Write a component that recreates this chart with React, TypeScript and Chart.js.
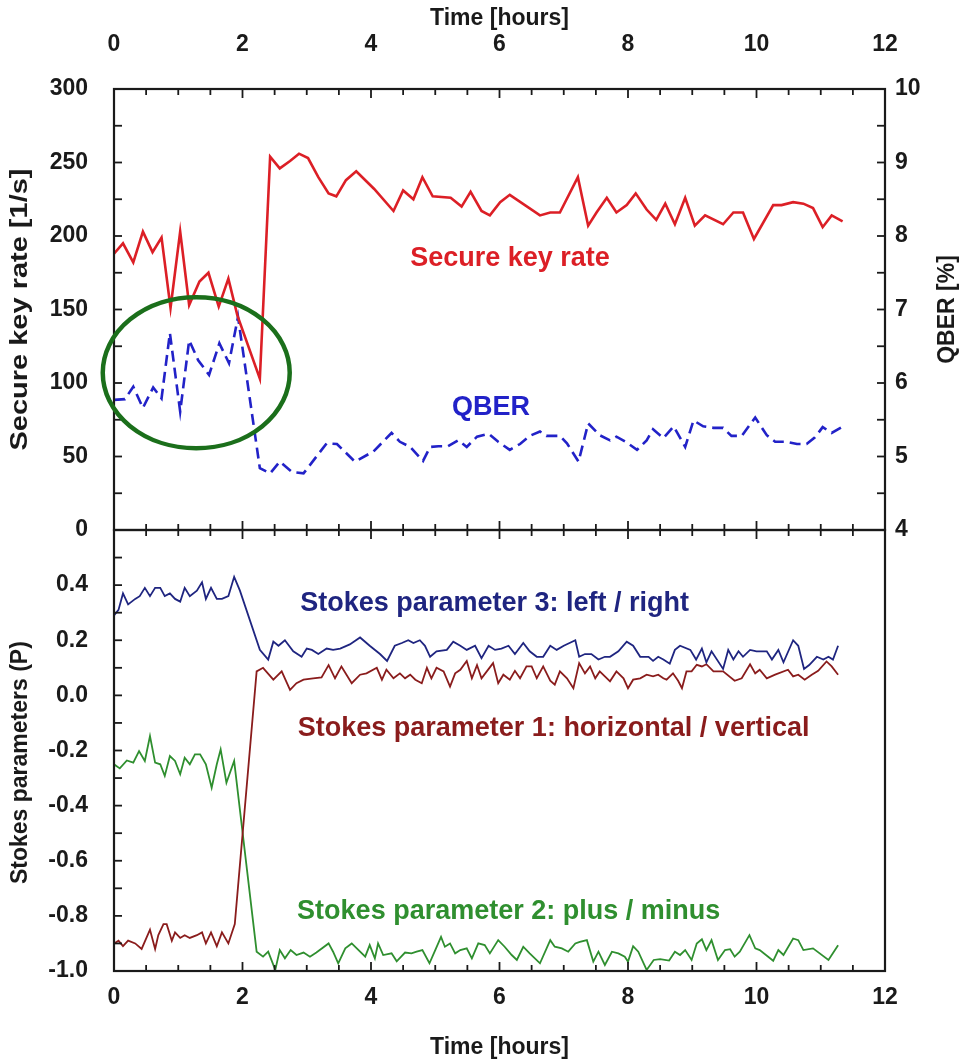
import React, { useEffect, useRef } from "react";
import { Chart, registerables } from "chart.js";
Chart.register(...registerables);

const FONT = '"Liberation Sans", Arial, Helvetica, sans-serif';
const W = 967;
const H = 1063;

// ---------- data: [time in hours, value] ----------
const keyRateSeries = [
  [0.0, 188], [0.14, 195], [0.3, 182], [0.45, 203], [0.6, 189], [0.74, 199], [0.88, 151], [1.03, 203],
  [1.17, 153], [1.33, 169], [1.47, 175], [1.63, 152], [1.78, 171], [1.92, 146], [2.27, 103], [2.43, 254],
  [2.58, 246], [2.74, 251], [2.88, 256], [3.02, 253], [3.18, 240], [3.34, 229], [3.46, 227], [3.61, 238],
  [3.77, 244], [4.05, 232], [4.35, 217], [4.5, 231], [4.66, 225], [4.8, 240], [4.96, 227], [5.24, 226],
  [5.41, 220], [5.55, 230], [5.72, 217], [5.85, 214], [6.01, 223], [6.16, 228], [6.63, 214], [6.79, 216],
  [6.94, 216], [7.22, 240], [7.38, 207], [7.51, 216], [7.67, 226], [7.82, 216], [7.98, 221], [8.12, 229],
  [8.29, 218], [8.44, 211], [8.58, 222], [8.73, 208], [8.89, 226], [9.04, 207], [9.2, 214], [9.48, 208],
  [9.64, 216], [9.79, 216], [9.96, 198], [10.26, 221], [10.39, 221], [10.57, 223], [10.73, 222], [10.88, 219],
  [11.03, 206], [11.17, 214], [11.34, 210],
];

const qberSeries = [
  [0.0, 5.77], [0.17, 5.78], [0.3, 5.95], [0.45, 5.66], [0.61, 5.94], [0.74, 5.79], [0.87, 6.68], [1.03, 5.61],
  [1.17, 6.58], [1.31, 6.31], [1.48, 6.11], [1.64, 6.54], [1.79, 6.27], [1.93, 6.9], [2.27, 4.84], [2.43, 4.77],
  [2.58, 4.93], [2.77, 4.79], [2.95, 4.77], [3.31, 5.18], [3.47, 5.17], [3.75, 4.93], [4.04, 5.07], [4.32, 5.32],
  [4.45, 5.2], [4.61, 5.13], [4.81, 4.94], [4.92, 5.13], [5.05, 5.14], [5.2, 5.14], [5.36, 5.22], [5.49, 5.13],
  [5.65, 5.27], [5.83, 5.31], [5.98, 5.2], [6.16, 5.09], [6.32, 5.17], [6.47, 5.28], [6.63, 5.34], [6.73, 5.28],
  [6.94, 5.28], [7.05, 5.18], [7.23, 4.93], [7.38, 5.45], [7.56, 5.29], [7.72, 5.22], [7.82, 5.27], [7.98, 5.19],
  [8.14, 5.09], [8.29, 5.22], [8.39, 5.37], [8.55, 5.25], [8.71, 5.41], [8.89, 5.13], [9.02, 5.49], [9.17, 5.41],
  [9.33, 5.39], [9.48, 5.39], [9.61, 5.28], [9.77, 5.28], [9.98, 5.53], [10.16, 5.29], [10.29, 5.2], [10.47, 5.2],
  [10.63, 5.17], [10.78, 5.17], [10.91, 5.26], [11.03, 5.4], [11.17, 5.32], [11.33, 5.4],
];

const stokes3Series = [
  [0.0, 0.29], [0.07, 0.31], [0.14, 0.37], [0.22, 0.33], [0.33, 0.35], [0.4, 0.36], [0.48, 0.39], [0.56, 0.36],
  [0.64, 0.39], [0.72, 0.39], [0.79, 0.36], [0.87, 0.37], [0.95, 0.35], [1.03, 0.34], [1.1, 0.39], [1.18, 0.36],
  [1.29, 0.38], [1.37, 0.41], [1.43, 0.35], [1.51, 0.39], [1.6, 0.35], [1.68, 0.35], [1.78, 0.36], [1.87, 0.43],
  [1.96, 0.38], [2.27, 0.165], [2.4, 0.13], [2.48, 0.195], [2.56, 0.18], [2.66, 0.2], [2.79, 0.16], [2.92, 0.14],
  [3.0, 0.17], [3.08, 0.165], [3.18, 0.15], [3.31, 0.17], [3.41, 0.165], [3.52, 0.17], [3.67, 0.185], [3.83, 0.21],
  [3.98, 0.18], [4.14, 0.15], [4.25, 0.125], [4.37, 0.18], [4.48, 0.19], [4.58, 0.2], [4.66, 0.19], [4.76, 0.2],
  [4.84, 0.18], [4.92, 0.14], [5.02, 0.16], [5.18, 0.165], [5.28, 0.195], [5.39, 0.18], [5.49, 0.165], [5.62, 0.18],
  [5.72, 0.135], [5.83, 0.18], [5.93, 0.165], [6.03, 0.17], [6.14, 0.18], [6.24, 0.15], [6.37, 0.19], [6.47, 0.16],
  [6.58, 0.14], [6.68, 0.14], [6.79, 0.18], [6.89, 0.165], [7.0, 0.18], [7.09, 0.19], [7.18, 0.2], [7.24, 0.14],
  [7.33, 0.15], [7.43, 0.15], [7.54, 0.13], [7.64, 0.14], [7.72, 0.14], [7.85, 0.16], [7.98, 0.195], [8.08, 0.18],
  [8.19, 0.14], [8.32, 0.14], [8.39, 0.125], [8.47, 0.14], [8.55, 0.13], [8.65, 0.115], [8.73, 0.165], [8.81, 0.18],
  [8.97, 0.165], [9.06, 0.13], [9.15, 0.17], [9.22, 0.12], [9.3, 0.16], [9.48, 0.096], [9.56, 0.165], [9.64, 0.13],
  [9.72, 0.16], [9.79, 0.14], [9.9, 0.165], [10.0, 0.16], [10.16, 0.16], [10.24, 0.13], [10.34, 0.165], [10.42, 0.12],
  [10.57, 0.2], [10.65, 0.18], [10.74, 0.096], [10.82, 0.11], [10.94, 0.14], [11.04, 0.13], [11.12, 0.14], [11.19, 0.13],
  [11.27, 0.18],
];

const stokes1Series = [
  [0.0, -0.9], [0.07, -0.89], [0.14, -0.91], [0.22, -0.89], [0.33, -0.9], [0.43, -0.92], [0.56, -0.85], [0.64, -0.92],
  [0.69, -0.87], [0.77, -0.83], [0.82, -0.83], [0.9, -0.89], [0.95, -0.86], [1.03, -0.88], [1.1, -0.87], [1.18, -0.88],
  [1.29, -0.87], [1.37, -0.86], [1.43, -0.9], [1.51, -0.86], [1.6, -0.91], [1.68, -0.86], [1.78, -0.9], [1.88, -0.83],
  [2.22, 0.087], [2.32, 0.1], [2.48, 0.057], [2.61, 0.087], [2.74, 0.02], [2.84, 0.044], [2.95, 0.057], [3.1, 0.062],
  [3.23, 0.065], [3.34, 0.11], [3.44, 0.062], [3.54, 0.105], [3.7, 0.044], [3.83, 0.075], [3.93, 0.08], [4.09, 0.1],
  [4.17, 0.057], [4.24, 0.093], [4.35, 0.062], [4.45, 0.08], [4.53, 0.062], [4.61, 0.075], [4.69, 0.057], [4.79, 0.044],
  [4.87, 0.1], [4.94, 0.062], [5.02, 0.1], [5.13, 0.087], [5.23, 0.032], [5.31, 0.08], [5.39, 0.093], [5.49, 0.125],
  [5.57, 0.062], [5.65, 0.11], [5.72, 0.062], [5.9, 0.117], [5.98, 0.044], [6.06, 0.075], [6.16, 0.057], [6.24, 0.089],
  [6.32, 0.062], [6.42, 0.105], [6.5, 0.105], [6.58, 0.062], [6.68, 0.105], [6.79, 0.053], [6.86, 0.039], [6.94, 0.087],
  [7.05, 0.062], [7.15, 0.026], [7.24, 0.117], [7.33, 0.08], [7.41, 0.105], [7.49, 0.062], [7.56, 0.087], [7.64, 0.069],
  [7.72, 0.051], [7.82, 0.087], [7.93, 0.062], [8.0, 0.026], [8.08, 0.057], [8.19, 0.062], [8.29, 0.075], [8.39, 0.069],
  [8.47, 0.075], [8.55, 0.062], [8.6, 0.057], [8.7, 0.08], [8.78, 0.053], [8.84, 0.026], [8.91, 0.087], [8.99, 0.087],
  [9.07, 0.111], [9.15, 0.105], [9.22, 0.113], [9.33, 0.087], [9.48, 0.087], [9.66, 0.053], [9.77, 0.062], [9.9, 0.113],
  [9.98, 0.08], [10.05, 0.093], [10.16, 0.062], [10.29, 0.075], [10.49, 0.093], [10.57, 0.069], [10.65, 0.075], [10.75, 0.057],
  [10.86, 0.075], [10.96, 0.089], [11.09, 0.123], [11.17, 0.105], [11.27, 0.075],
];

const stokes2Series = [
  [0.0, -0.25], [0.09, -0.265], [0.2, -0.236], [0.3, -0.244], [0.39, -0.202], [0.48, -0.238], [0.56, -0.148], [0.64, -0.244],
  [0.72, -0.25], [0.79, -0.292], [0.87, -0.22], [0.95, -0.238], [1.03, -0.286], [1.1, -0.226], [1.18, -0.25], [1.26, -0.214],
  [1.34, -0.214], [1.43, -0.25], [1.52, -0.335], [1.6, -0.25], [1.66, -0.196], [1.75, -0.317], [1.87, -0.238], [2.22, -0.93],
  [2.32, -0.948], [2.4, -0.93], [2.51, -0.996], [2.58, -0.924], [2.66, -0.954], [2.75, -0.924], [2.84, -0.942], [2.95, -0.933],
  [3.05, -0.948], [3.15, -0.933], [3.34, -0.9], [3.41, -0.93], [3.49, -0.972], [3.6, -0.918], [3.7, -0.9], [3.91, -0.948],
  [3.98, -0.906], [4.06, -0.954], [4.11, -0.9], [4.19, -0.942], [4.32, -0.936], [4.4, -0.965], [4.53, -0.933], [4.63, -0.936],
  [4.71, -0.93], [4.8, -0.924], [4.91, -0.972], [5.0, -0.924], [5.09, -0.876], [5.15, -0.912], [5.23, -0.9], [5.31, -0.936],
  [5.39, -0.924], [5.49, -0.918], [5.57, -0.954], [5.67, -0.9], [5.77, -0.906], [5.85, -0.936], [5.98, -0.888], [6.08, -0.912],
  [6.19, -0.942], [6.27, -0.96], [6.37, -0.912], [6.47, -0.936], [6.63, -0.972], [6.79, -0.888], [6.86, -0.912], [6.97, -0.918],
  [7.07, -0.93], [7.18, -0.9], [7.25, -0.894], [7.36, -0.888], [7.46, -0.966], [7.54, -0.93], [7.64, -0.978], [7.75, -0.93],
  [7.85, -0.936], [7.95, -0.948], [8.0, -0.966], [8.08, -0.91], [8.16, -0.93], [8.29, -0.996], [8.4, -0.96], [8.5, -0.957],
  [8.64, -0.962], [8.73, -0.93], [8.81, -0.942], [8.89, -0.924], [8.99, -0.96], [9.07, -0.9], [9.15, -0.885], [9.22, -0.924],
  [9.3, -0.888], [9.4, -0.96], [9.51, -0.924], [9.59, -0.921], [9.66, -0.948], [9.74, -0.93], [9.89, -0.87], [9.98, -0.918],
  [10.05, -0.924], [10.26, -0.963], [10.34, -0.924], [10.42, -0.942], [10.57, -0.882], [10.65, -0.888], [10.73, -0.924],
  [10.88, -0.918], [11.12, -0.96], [11.27, -0.907],
];

// axis ranges / tick steps
const X_RANGE = [0, 12];
const X_LABEL_STEP = 2;
const X_MINOR_STEP = 0.5;
const KEY_RANGE = [0, 300];
const KEY_LABEL_STEP = 50;
const KEY_MINOR_STEP = 25;
const QBER_RANGE = [4, 10];
const QBER_LABEL_STEP = 1;
const QBER_MINOR_STEP = 0.5;
const STOKES_RANGE = [-1, 0.6];
const STOKES_LABEL_STEP = 0.2;
const STOKES_MINOR_STEP = 0.1;

// styles
const RED = "#dc1f26";
const BLUE = "#2222c8";
const NAVY = "#1f2580";
const DARKRED = "#8a1c1c";
const GREEN = "#2f8f2f";
const CIRCLE_GREEN = "#1b6f1b";
const AXIS = "#1a1a1a";
const TICK_FONT = { family: FONT, size: 23, weight: "bold" as const };
const TITLE_FONT = { family: FONT, size: 23, weight: "bold" as const };
const NOTE_FONT = `bold 27px ${FONT}`;

// annotations (data coordinates)
const topNotes = [
  { text: "Secure key rate", x: 4.61, y: 185, color: RED },
  { text: "QBER", x: 5.26, y: 83, color: BLUE },
];
const bottomNotes = [
  { text: "Stokes parameter 3: left / right", x: 2.9, y: 0.332, color: NAVY },
  { text: "Stokes parameter 1: horizontal / vertical", x: 2.86, y: -0.119, color: DARKRED },
  { text: "Stokes parameter 2: plus / minus", x: 2.85, y: -0.783, color: GREEN },
];
const highlight = { cx: 1.28, cy: 107, rx: 1.455, ry: 51.4 };
const keyTitle = { text: "Secure key rate [1/s]", at: 150, stretch: 1.26 };
const stokesTitle = { text: "Stokes parameters (P)", at: -0.244, stretch: 1 };
const qberTitle = { text: "QBER [%]", at: 7, stretch: 1 };

const toPts = (s: number[][]) => s.map(([x, y]) => ({ x, y }));

function steps(lo: number, hi: number, step: number) {
  const out: number[] = [];
  const n = Math.round((hi - lo) / step);
  for (let i = 0; i <= n; i++) out.push(lo + i * step);
  return out;
}

function line(ctx: CanvasRenderingContext2D, x1: number, y1: number, x2: number, y2: number) {
  ctx.beginPath();
  ctx.moveTo(x1, y1);
  ctx.lineTo(x2, y2);
  ctx.stroke();
}

function drawXTicks(ctx: CanvasRenderingContext2D, scale: any, a: any) {
  for (const v of steps(X_RANGE[0], X_RANGE[1], X_MINOR_STEP)) {
    const px = scale.getPixelForValue(v);
    const major = Math.abs(v / X_LABEL_STEP - Math.round(v / X_LABEL_STEP)) < 1e-6;
    const len = major ? 9 : 6;
    line(ctx, px, a.top, px, a.top + len);
    line(ctx, px, a.bottom, px, a.bottom - len);
  }
}

function drawVerticalTitle(ctx: CanvasRenderingContext2D, text: string, x: number, y: number, size: number, stretch: number) {
  ctx.save();
  ctx.translate(x, y);
  ctx.rotate(-Math.PI / 2);
  ctx.scale(stretch, 1);
  ctx.font = `bold ${size}px ${FONT}`;
  ctx.fillStyle = AXIS;
  ctx.textAlign = "center";
  ctx.textBaseline = "middle";
  ctx.fillText(text, 0, 0);
  ctx.restore();
}

const topPlugin = {
  id: "topDecor",
  afterDraw(chart: any) {
    const { ctx, chartArea: a } = chart;
    const xs = chart.scales.x2;
    const ys = chart.scales.y;
    const yq = chart.scales.yQ;
    ctx.save();
    ctx.strokeStyle = AXIS;
    ctx.lineWidth = 1.8;
    drawXTicks(ctx, xs, a);
    for (const v of steps(KEY_RANGE[0], KEY_RANGE[1], KEY_MINOR_STEP)) {
      const py = ys.getPixelForValue(v);
      line(ctx, a.left, py, a.left + 8, py);
    }
    for (const v of steps(QBER_RANGE[0], QBER_RANGE[1], QBER_MINOR_STEP)) {
      const py = yq.getPixelForValue(v);
      line(ctx, a.right, py, a.right - 8, py);
    }
    ctx.lineWidth = 2.2;
    ctx.strokeRect(a.left, a.top, a.right - a.left, a.bottom - a.top);

    // highlight ellipse
    const cx = xs.getPixelForValue(highlight.cx);
    const cy = ys.getPixelForValue(highlight.cy);
    const rx = xs.getPixelForValue(highlight.cx + highlight.rx) - cx;
    const ry = cy - ys.getPixelForValue(highlight.cy + highlight.ry);
    ctx.strokeStyle = CIRCLE_GREEN;
    ctx.lineWidth = 4.5;
    ctx.beginPath();
    ctx.ellipse(cx, cy, rx, ry, 0, 0, Math.PI * 2);
    ctx.stroke();

    // notes
    ctx.font = NOTE_FONT;
    ctx.textAlign = "left";
    ctx.textBaseline = "middle";
    for (const n of topNotes) {
      ctx.fillStyle = n.color;
      ctx.fillText(n.text, xs.getPixelForValue(n.x), ys.getPixelForValue(n.y));
    }

    // axis titles (read bottom to top)
    drawVerticalTitle(ctx, keyTitle.text, 21, ys.getPixelForValue(keyTitle.at), TITLE_FONT.size, keyTitle.stretch);
    drawVerticalTitle(ctx, qberTitle.text, 948, yq.getPixelForValue(qberTitle.at), TITLE_FONT.size, qberTitle.stretch);
    ctx.restore();
  },
};

const bottomPlugin = {
  id: "bottomDecor",
  afterDraw(chart: any) {
    const { ctx, chartArea: a } = chart;
    const xs = chart.scales.x;
    const ys = chart.scales.y;
    ctx.save();
    ctx.strokeStyle = AXIS;
    ctx.lineWidth = 1.8;
    drawXTicks(ctx, xs, a);
    for (const v of steps(STOKES_RANGE[0], STOKES_RANGE[1], STOKES_MINOR_STEP)) {
      const py = ys.getPixelForValue(v);
      line(ctx, a.left, py, a.left + 8, py);
    }
    ctx.lineWidth = 2.2;
    ctx.strokeRect(a.left, a.top, a.right - a.left, a.bottom - a.top);
    ctx.font = NOTE_FONT;
    ctx.textAlign = "left";
    ctx.textBaseline = "middle";
    for (const n of bottomNotes) {
      ctx.fillStyle = n.color;
      ctx.fillText(n.text, xs.getPixelForValue(n.x), ys.getPixelForValue(n.y));
    }
    drawVerticalTitle(ctx, stokesTitle.text, 21, ys.getPixelForValue(stokesTitle.at), TITLE_FONT.size, stokesTitle.stretch);
    ctx.restore();
  },
};

export default function App() {
  const topRef = useRef<HTMLCanvasElement>(null);
  const botRef = useRef<HTMLCanvasElement>(null);

  useEffect(() => {
    const noGrid = { display: false, drawTicks: false };
    const noBorder = { display: false };
    const top = new Chart(topRef.current as HTMLCanvasElement, {
      type: "line",
      data: {
        datasets: [
          {
            data: toPts(keyRateSeries),
            borderColor: RED,
            borderWidth: 2.6,
            pointRadius: 0,
            tension: 0,
            xAxisID: "x2",
            yAxisID: "y",
          },
          {
            data: toPts(qberSeries),
            borderColor: BLUE,
            borderWidth: 2.6,
            borderDash: [11, 6],
            pointRadius: 0,
            tension: 0,
            xAxisID: "x2",
            yAxisID: "yQ",
          },
        ],
      } as any,
      options: {
        responsive: false,
        animation: false,
        layout: { padding: { top: 0, left: 0, right: 0, bottom: H - 530 } },
        plugins: { legend: { display: false }, tooltip: { enabled: false } },
        scales: {
          x2: {
            type: "linear",
            position: "top",
            min: X_RANGE[0],
            max: X_RANGE[1],
            ticks: { stepSize: X_LABEL_STEP, color: AXIS, font: TICK_FONT, padding: 31, maxRotation: 0, autoSkip: false },
            grid: noGrid,
            border: noBorder,
            title: { display: true, text: "Time [hours]", color: AXIS, font: TITLE_FONT, padding: { top: 5, bottom: 0 } },
            afterFit: (s: any) => {
              s.height = 89;
            },
          },
          y: {
            type: "linear",
            position: "left",
            min: KEY_RANGE[0],
            max: KEY_RANGE[1],
            ticks: { stepSize: KEY_LABEL_STEP, color: AXIS, font: TICK_FONT, padding: 26 },
            grid: noGrid,
            border: noBorder,
            afterFit: (s: any) => {
              s.width = 114;
            },
          },
          yQ: {
            type: "linear",
            position: "right",
            min: QBER_RANGE[0],
            max: QBER_RANGE[1],
            ticks: { stepSize: QBER_LABEL_STEP, color: AXIS, font: TICK_FONT, padding: 10 },
            grid: noGrid,
            border: noBorder,
            afterFit: (s: any) => {
              s.width = W - 885;
            },
          },
        },
      } as any,
      plugins: [topPlugin],
    });

    const bottom = new Chart(botRef.current as HTMLCanvasElement, {
      type: "line",
      data: {
        datasets: [
          { data: toPts(stokes3Series), borderColor: NAVY, borderWidth: 1.8, pointRadius: 0, tension: 0 },
          { data: toPts(stokes1Series), borderColor: DARKRED, borderWidth: 1.8, pointRadius: 0, tension: 0 },
          { data: toPts(stokes2Series), borderColor: GREEN, borderWidth: 1.8, pointRadius: 0, tension: 0 },
        ],
      } as any,
      options: {
        responsive: false,
        animation: false,
        layout: { padding: { top: 530, left: 0, right: W - 885, bottom: 0 } },
        plugins: { legend: { display: false }, tooltip: { enabled: false } },
        scales: {
          x: {
            type: "linear",
            position: "bottom",
            min: X_RANGE[0],
            max: X_RANGE[1],
            ticks: { stepSize: X_LABEL_STEP, color: AXIS, font: TICK_FONT, padding: 13, maxRotation: 0, autoSkip: false },
            grid: noGrid,
            border: noBorder,
            title: { display: true, text: "Time [hours]", color: AXIS, font: TITLE_FONT, padding: { top: 0, bottom: 2 } },
            afterFit: (s: any) => {
              s.height = H - 971;
            },
          },
          y: {
            type: "linear",
            position: "left",
            min: STOKES_RANGE[0],
            max: STOKES_RANGE[1],
            ticks: {
              stepSize: STOKES_LABEL_STEP,
              color: AXIS,
              font: TICK_FONT,
              padding: 26,
              callback: (v: any) => {
                const r = Math.round(Number(v) * 10) / 10;
                if (r > 0.5) return "";
                return (r === 0 ? 0 : r).toFixed(1);
              },
            },
            grid: noGrid,
            border: noBorder,
            afterFit: (s: any) => {
              s.width = 114;
            },
          },
        },
      } as any,
      plugins: [bottomPlugin],
    });

    return () => {
      top.destroy();
      bottom.destroy();
    };
  }, []);

  const canvasStyle: React.CSSProperties = { position: "absolute", left: 0, top: 0, width: W, height: H };
  return (
    <div style={{ position: "absolute", left: 0, top: 0, width: W, height: H, background: "#fff" }}>
      <canvas ref={topRef} width={W} height={H} style={canvasStyle} />
      <canvas ref={botRef} width={W} height={H} style={canvasStyle} />
    </div>
  );
}
